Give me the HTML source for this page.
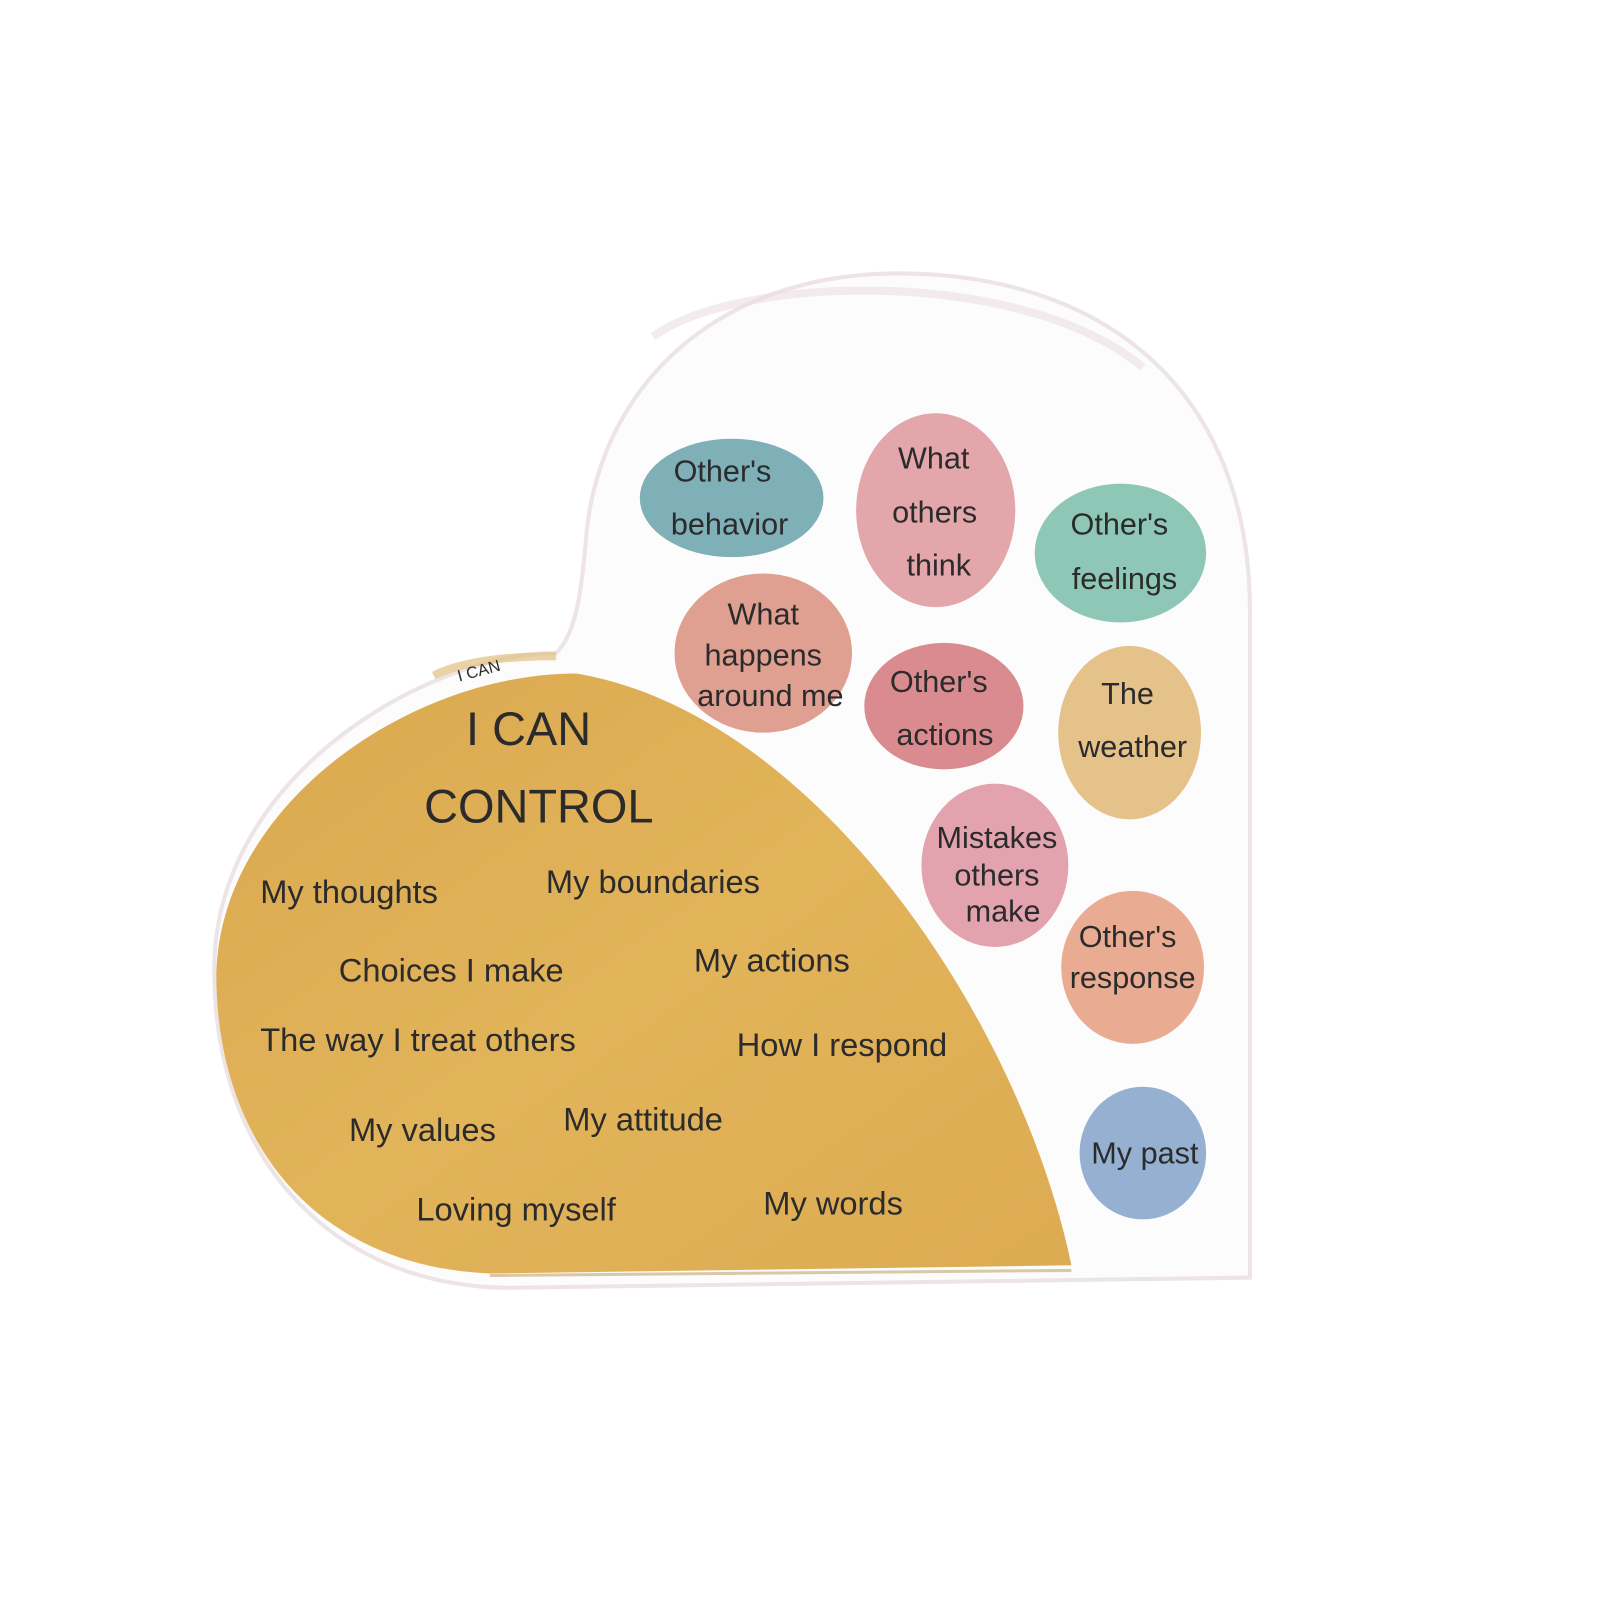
<!DOCTYPE html>
<html><head><style>
html,body{margin:0;padding:0;background:#fff;width:1600px;height:1600px;overflow:hidden}
svg{display:block}
text{font-family:"Liberation Sans",sans-serif;fill:#2b2b2b}
</style></head><body>
<svg width="1600" height="1600" viewBox="0 0 1568 1568" xmlns="http://www.w3.org/2000/svg">
<defs>
<linearGradient id="y" x1="0" y1="0" x2="1" y2="1">
<stop offset="0" stop-color="#d9a850"/><stop offset="0.5" stop-color="#e2b45a"/><stop offset="1" stop-color="#dcab52"/>
</linearGradient>
</defs>
<path d="M1225,1250 L1225,600 C1225,380 1080,268 880,268 C700,268 590,380 575,520 C570,580 565,620 545,640 C420,640 210,760 210,950 C210,1140 330,1262 500,1262 L1225,1252 Z" fill="#fdfcfc" stroke="#ece4e5" stroke-width="4"/>
<path d="M640,330 C720,270 1000,260 1120,360" fill="none" stroke="#eddde0" stroke-width="8" opacity="0.6"/>
<path d="M545,643 C480,643 445,652 425,662" fill="none" stroke="#e0c080" stroke-width="8" opacity="0.7"/>
<text x="450" y="668" font-size="16" transform="rotate(-15 450 668)" fill="#555">I CAN</text>
<path d="M565,660 C800,700 1000,1000 1050,1240 L480,1248 C300,1240 212,1110 212,955 C215,790 400,660 565,660 Z" fill="url(#y)"/>
<path d="M480,1250 L1050,1245" stroke="#d8c8a8" stroke-width="3"/>
<text x="518" y="730" font-size="46" text-anchor="middle">I CAN</text>
<text x="528" y="806" font-size="46" text-anchor="middle">CONTROL</text>
<g font-size="32">
<text x="255" y="885">My thoughts</text>
<text x="535" y="875">My boundaries</text>
<text x="332" y="962">Choices I make</text>
<text x="680" y="952">My actions</text>
<text x="255" y="1030">The way I treat others</text>
<text x="722" y="1035">How I respond</text>
<text x="342" y="1118">My values</text>
<text x="552" y="1108">My attitude</text>
<text x="408" y="1196">Loving myself</text>
<text x="748" y="1190">My words</text>
</g>
<ellipse cx="717" cy="488" rx="90" ry="58" fill="#7fafb7"/>
<ellipse cx="917" cy="500" rx="78" ry="95" fill="#e2a6ab"/>
<ellipse cx="1098" cy="542" rx="84" ry="68" fill="#8fc7b7"/>
<ellipse cx="748" cy="640" rx="87" ry="78" fill="#df9f91"/>
<ellipse cx="925" cy="692" rx="78" ry="62" fill="#d98b8f"/>
<ellipse cx="1107" cy="718" rx="70" ry="85" fill="#e5c28a"/>
<ellipse cx="975" cy="848" rx="72" ry="80" fill="#e2a3af"/>
<ellipse cx="1110" cy="948" rx="70" ry="75" fill="#e9ac93"/>
<ellipse cx="1120" cy="1130" rx="62" ry="65" fill="#96b0d2"/>
<g font-size="30" text-anchor="middle">
<text x="708" y="472">Other's</text><text x="715" y="524">behavior</text>
<text x="915" y="459">What</text><text x="916" y="512">others</text><text x="920" y="564">think</text>
<text x="1097" y="524">Other's</text><text x="1102" y="577">feelings</text>
<text x="748" y="612">What</text><text x="748" y="652">happens</text><text x="755" y="692">around me</text>
<text x="920" y="678">Other's</text><text x="926" y="730">actions</text>
<text x="1105" y="690">The</text><text x="1110" y="742">weather</text>
<text x="977" y="831">Mistakes</text><text x="977" y="868">others</text><text x="983" y="903">make</text>
<text x="1105" y="928">Other's</text><text x="1110" y="968">response</text>
<text x="1122" y="1140">My past</text>
</g>
</svg>
</body></html>
